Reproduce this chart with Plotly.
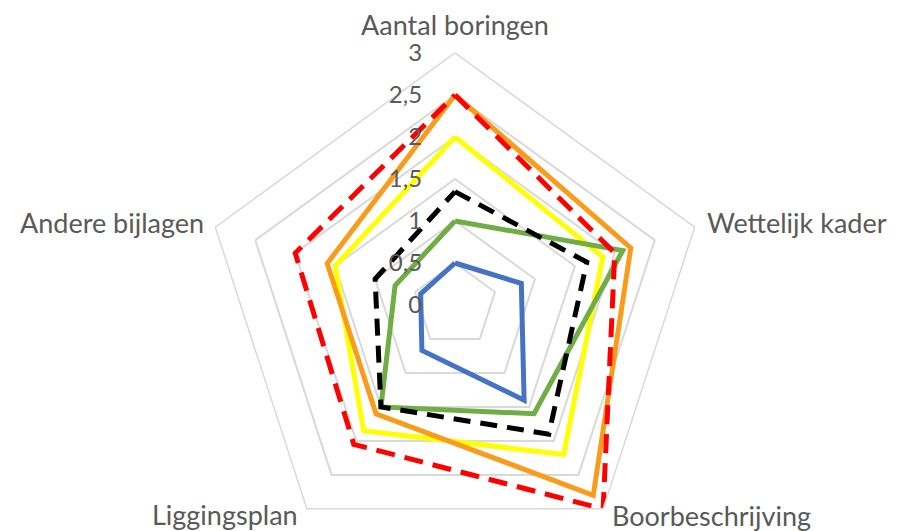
import math
import plotly.graph_objects as go

categories = ["Aantal boringen", "Wettelijk kader", "Boorbeschrijving", "Liggingsplan", "Andere bijlagen"]

blue_values = [0.5, 0.83, 1.4, 0.67, 0.43]
yellow_values = [2.0, 1.85, 2.2, 1.85, 1.5]
green_values = [1.0, 2.1, 1.6, 1.5, 0.75]
orange_values = [2.5, 2.2, 2.8, 1.6, 1.6]
black_values = [1.35, 1.65, 1.9, 1.5, 1.0]
red_values = [2.5, 2.0, 3.0, 2.05, 2.0]

radial_ticks = [0, 0.5, 1, 1.5, 2, 2.5, 3]

series = [
    ("Reeks 1", blue_values, "#4472C4", "solid"),
    ("Reeks 2", yellow_values, "#FFFF00", "solid"),
    ("Reeks 3", green_values, "#70AD47", "solid"),
    ("Reeks 4", orange_values, "#FA9C1B", "solid"),
    ("Reeks 5", black_values, "#000000", "17px,10px"),
    ("Reeks 6", red_values, "#FF0000", "19px,10px"),
]

fig = go.Figure()
for name, vals, color, dash in series:
    fig.add_trace(go.Scatterpolar(
        r=vals + vals[:1],
        theta=categories + categories[:1],
        mode="lines",
        name=name,
        line=dict(color=color, width=5, dash=dash),
        showlegend=False,
        hoverinfo="skip",
    ))

# figure geometry (page has an 8px body margin)
W, H = 889, 552
cx, cy, R = 447, 297, 252
label_font = dict(family="Lato, 'Open Sans', sans-serif", size=27, color="#595959")

# category labels placed just outside each pentagon vertex
label_offsets = [(0, -29, "center"), (10, -5, "left"), (7, 7, "left"), (-7, 6, "right"), (-9, -5, "right")]
annotations = []
for i, (cat, (dx, dy, anchor)) in enumerate(zip(categories, label_offsets)):
    ang = math.radians(90 - 72 * i)
    vx = cx + R * math.cos(ang) + dx
    vy = cy - R * math.sin(ang) + dy
    annotations.append(dict(
        text=cat, x=vx / W, y=1 - vy / H, xref="paper", yref="paper",
        xanchor=anchor, yanchor="middle", showarrow=False, font=label_font,
    ))

fig.update_layout(
    width=W, height=H,
    margin=dict(l=0, r=0, t=0, b=0),
    paper_bgcolor="white",
    plot_bgcolor="white",
    separators=", ",
    font=dict(family="Lato, 'Open Sans', sans-serif", color="#595959"),
    annotations=annotations,
    polar=dict(
        domain=dict(x=[(cx - R) / W, (cx + R) / W], y=[(H - cy - R) / H, (H - cy + R) / H]),
        bgcolor="white",
        gridshape="linear",
        angularaxis=dict(
            type="category",
            categoryarray=categories,
            direction="clockwise",
            rotation=90,
            showgrid=False,
            showline=True,
            linecolor="#D9D9D9",
            linewidth=1.5,
            ticks="",
            showticklabels=False,
        ),
        radialaxis=dict(
            range=[0, 3],
            tickvals=radial_ticks,
            angle=90,
            side="counterclockwise",
            showline=False,
            showgrid=True,
            gridcolor="#D9D9D9",
            gridwidth=1.5,
            ticks="outside",
            ticklen=24,
            tickcolor="rgba(0,0,0,0)",
            tickfont=dict(size=24, color="#595959"),
            tickangle=90,
        ),
    ),
)

fig.write_html("out.html")
